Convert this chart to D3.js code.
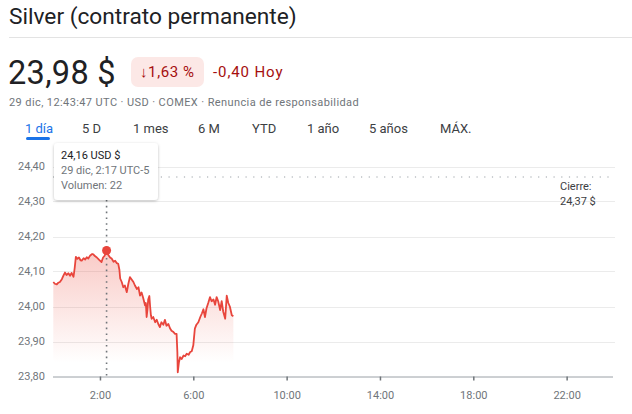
<!DOCTYPE html>
<html>
<head>
<meta charset="utf-8">
<script src="https://cdn.jsdelivr.net/npm/d3@7/dist/d3.min.js"></script>
<style>
  html, body { margin: 0; padding: 0; background: #fff; }
  svg { display: block; font-family: Roboto, Arial, sans-serif; }
</style>
</head>
<body>
<svg id="chart" width="632" height="414"></svg>
<script>
// ---- data (minutes after 0:00 UTC-5, price in USD) ----
const times = [0,4,9,13,17,22,26,30,34,39,43,47,50,52,55,58,62,66,70,73,78,82,86,90,95,100,103,107,112,118,124,128,132,137,141,146,150,155,159,163,167,170,172,176,180,184,189,193,197,201,206,210,215,219,223,227,231,236,238,240,242,244,247,249,251,253,257,262,266,270,274,278,283,287,291,296,300,304,308,313,317,319,320,323,326,330,335,339,343,348,352,356,360,364,368,373,378,382,386,390,394,399,403,407,412,416,420,424,429,433,437,442,446,450,454,457,459,463];
const prices = [24.070,24.065,24.063,24.068,24.070,24.078,24.088,24.097,24.090,24.095,24.088,24.096,24.089,24.085,24.110,24.142,24.136,24.140,24.132,24.131,24.138,24.134,24.141,24.137,24.146,24.150,24.149,24.144,24.140,24.133,24.127,24.140,24.145,24.160,24.148,24.140,24.137,24.128,24.131,24.124,24.122,24.105,24.080,24.070,24.055,24.060,24.041,24.065,24.084,24.078,24.070,24.060,24.050,24.055,24.031,24.040,24.025,24.003,24.010,23.970,23.990,24.020,24.030,24.000,23.975,23.965,23.970,23.955,23.962,23.950,23.941,23.955,23.948,23.962,23.945,23.950,23.938,23.931,23.928,23.922,23.922,23.870,23.812,23.840,23.855,23.850,23.860,23.858,23.865,23.862,23.870,23.872,23.889,23.937,23.948,23.955,23.970,23.980,23.992,23.970,23.995,24.012,24.027,24.015,24.020,24.005,24.027,24.015,23.990,24.015,23.985,23.965,24.031,24.010,24.000,23.985,23.975,23.972];
const yTicks = [23.80, 23.90, 24.00, 24.10, 24.20, 24.30, 24.40];
const xTickHours = [2, 6, 10, 14, 18, 22];
const closePrice = 24.37;
const hoverTime = 137;
const hoverPrice = 24.16;
const tabs = ["1 día", "5 D", "1 mes", "6 M", "YTD", "1 año", "5 años", "MÁX."];
const tabX = [25, 82, 133, 198, 252, 307, 369, 440];

const svg = d3.select("#chart");
const fmt = v => d3.format(".2f")(v).replace(".", ",");

// ---- header ----
svg.append("text").attr("x", 9).attr("y", 24).attr("font-size", 22.7).attr("fill", "#202124").text("Silver (contrato permanente)");
svg.append("line").attr("x1", 9).attr("x2", 632).attr("y1", 37.5).attr("y2", 37.5).attr("stroke", "#e3e3e3");
svg.append("text").attr("x", 8).attr("y", 84).attr("font-size", 32.5).attr("letter-spacing", 0.3).attr("fill", "#202124").text("23,98 $");
svg.append("rect").attr("x", 131).attr("y", 57).attr("width", 73).attr("height", 30).attr("rx", 7).attr("fill", "#fce8e6");
svg.append("text").attr("x", 140).attr("y", 77).attr("font-size", 15).attr("letter-spacing", 0.6).attr("fill", "#a50e0e").text("↓1,63 %");
svg.append("text").attr("x", 213).attr("y", 77).attr("font-size", 15).attr("letter-spacing", 0.9).attr("fill", "#a50e0e").text("-0,40 Hoy");
svg.append("text").attr("x", 9).attr("y", 106).attr("font-size", 11).attr("letter-spacing", 0.4).attr("fill", "#70757a").text("29 dic, 12:43:47 UTC · USD · COMEX · Renuncia de responsabilidad");

tabs.forEach((t, i) => {
  svg.append("text").attr("x", tabX[i]).attr("y", 133).attr("font-size", 13)
    .attr("fill", i === 0 ? "#1a73e8" : "#3c4043").text(t);
});
svg.append("rect").attr("x", 26).attr("y", 137).attr("width", 24).attr("height", 3).attr("rx", 1.5).attr("fill", "#1a73e8");

// ---- scales ----
const x = d3.scaleLinear().domain([0, 24 * 60]).range([53.3, 613.3]);
const y = d3.scaleLinear().domain([23.80, 24.40]).range([376.5, 166.5]);

// grid
svg.append("g").selectAll("line").data(yTicks.slice(1)).join("line")
  .attr("x1", 53).attr("x2", 615).attr("y1", d => Math.round(y(d)) + 0.5).attr("y2", d => Math.round(y(d)) + 0.5)
  .attr("stroke", "#ebebeb");

// y labels
svg.append("g").selectAll("text").data(yTicks).join("text")
  .attr("x", 45).attr("y", d => y(d)).attr("dy", "0.35em").attr("text-anchor", "end")
  .attr("font-size", 11).attr("fill", "#70757a").text(fmt);

// x axis
const xAxis = d3.axisBottom(x).tickValues(xTickHours.map(h => h * 60)).tickSize(4)
  .tickFormat(m => (m / 60) + ":00");
const gx = svg.append("g").attr("transform", `translate(0,${y(23.80)})`).call(xAxis);
gx.select(".domain").attr("stroke", "#9aa0a6").attr("d", `M53,0.5H613`);
gx.selectAll(".tick line").attr("stroke", "#70757a").attr("stroke-width", 1.5);
gx.selectAll(".tick text").attr("font-size", 11).attr("fill", "#70757a").attr("dy", "1.45em").attr("font-family", "Roboto, Arial, sans-serif");

// data
const data = times.map((t, i) => ({ t, v: prices[i] }));

const defs = svg.append("defs");
const grad = defs.append("linearGradient").attr("id", "fillGrad").attr("gradientUnits", "userSpaceOnUse")
  .attr("x1", 0).attr("x2", 0).attr("y1", y(24.16)).attr("y2", y(23.84));
grad.append("stop").attr("offset", 0).attr("stop-color", "#ea4335").attr("stop-opacity", 0.28);
grad.append("stop").attr("offset", 1).attr("stop-color", "#ea4335").attr("stop-opacity", 0);

svg.append("path").datum(data)
  .attr("d", d3.area().x(d => x(d.t)).y0(y(23.80)).y1(d => y(d.v)))
  .attr("fill", "url(#fillGrad)");

// closing price line
svg.append("line").attr("x1", 53).attr("x2", 613).attr("y1", y(closePrice)).attr("y2", y(closePrice))
  .attr("stroke", "#9aa0a6").attr("stroke-width", 1.2).attr("stroke-dasharray", "1.2,6.5");
svg.append("text").attr("x", 560).attr("y", 190).attr("font-size", 11).attr("fill", "#3c4043").text("Cierre:");
svg.append("text").attr("x", 560).attr("y", 205).attr("font-size", 11).attr("fill", "#3c4043").text(fmt(closePrice) + " $");

svg.append("path").datum(data)
  .attr("d", d3.line().x(d => x(d.t)).y(d => y(d.v)))
  .attr("fill", "none").attr("stroke", "#e8453c").attr("stroke-width", 1.8).attr("stroke-linejoin", "round");

// hover line and point
svg.append("line").attr("x1", x(hoverTime)).attr("x2", x(hoverTime)).attr("y1", 200).attr("y2", y(23.80))
  .attr("stroke", "#70757a").attr("stroke-width", 1.6).attr("stroke-dasharray", "1.6,4.2");
svg.append("circle").attr("cx", x(hoverTime)).attr("cy", y(hoverPrice)).attr("r", 4.5).attr("fill", "#e8453c");

// tooltip
const filt = defs.append("filter").attr("id", "shadow").attr("x", "-20%").attr("y", "-20%").attr("width", "140%").attr("height", "150%");
filt.append("feDropShadow").attr("dx", 0).attr("dy", 1).attr("stdDeviation", 1.5).attr("flood-color", "#000").attr("flood-opacity", 0.25);
svg.append("rect").attr("x", 54).attr("y", 143).attr("width", 104).attr("height", 57).attr("rx", 4)
  .attr("fill", "#fff").attr("filter", "url(#shadow)");
svg.append("text").attr("x", 61).attr("y", 159).attr("font-size", 11).attr("fill", "#202124").text(fmt(hoverPrice) + " USD $");
svg.append("text").attr("x", 61).attr("y", 174).attr("font-size", 11).attr("fill", "#70757a").text("29 dic, 2:17 UTC-5");
svg.append("text").attr("x", 61).attr("y", 189).attr("font-size", 11).attr("fill", "#70757a").text("Volumen: 22");
</script>
</body>
</html>
